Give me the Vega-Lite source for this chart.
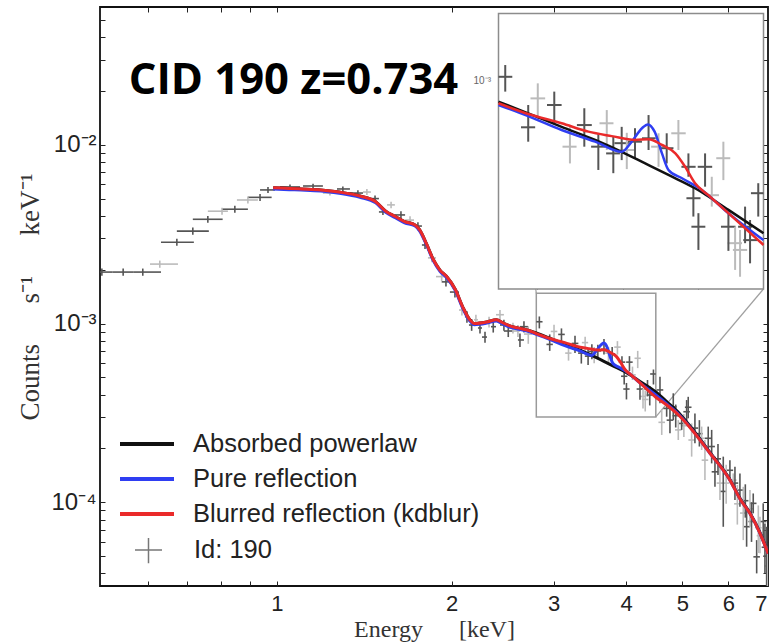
{
  "$schema": "https://vega.github.io/schema/vega-lite/v6.json",
  "width": 668,
  "height": 579,
  "autosize": {"type": "none"},
  "padding": {"left": 100, "top": 7, "right": 3, "bottom": 57},
  "background": "white",
  "config": {
    "view": {"stroke": "#111111", "strokeWidth": 1.8},
    "axis": {"grid": false, "domain": false, "labelFont": "Liberation Sans", "titleFont": "Liberation Serif", "titleFontWeight": "normal", "tickColor": "#222222", "labelFlush": false, "labelOverlap": false, "labelColor": "#222222", "titleColor": "#333333"},
    "legend": {"labelFont": "Liberation Sans", "labelColor": "#222222", "labelFontSize": 25.5, "labelLimit": 400, "padding": 0}
  },
  "datasets": {
    "conn": [
      {"xa": 2.41, "ya": 0.0543, "xb": 2.8, "yb": 0.001475},
      {"xa": 6.9, "ya": 0.00156, "xb": 4.5, "yb": 0.0003}
    ],
    "box": [{"a": 2.8, "b": 4.5, "lo": 0.0003, "hi": 0.001475}],
    "spec": [
      {"E":0.499,"Elo":0.467,"Ehi":0.521,"F":0.00194,"Flo":0.00185,"Fhi":0.00203,"s":"A"},
      {"E":0.543,"Elo":0.521,"Ehi":0.565,"F":0.00194,"Flo":0.00185,"Fhi":0.00203,"s":"A"},
      {"E":0.587,"Elo":0.565,"Ehi":0.631,"F":0.00194,"Flo":0.00185,"Fhi":0.00203,"s":"A"},
      {"E":0.628,"Elo":0.604,"Ehi":0.675,"F":0.00215,"Flo":0.00205,"Fhi":0.00225,"s":"B"},
      {"E":0.672,"Elo":0.631,"Ehi":0.719,"F":0.00285,"Flo":0.00272,"Fhi":0.00298,"s":"A"},
      {"E":0.716,"Elo":0.672,"Ehi":0.763,"F":0.00329,"Flo":0.00314,"Fhi":0.00344,"s":"A"},
      {"E":0.76,"Elo":0.716,"Ehi":0.806,"F":0.00383,"Flo":0.00366,"Fhi":0.004,"s":"A"},
      {"E":0.804,"Elo":0.76,"Ehi":0.823,"F":0.00425,"Flo":0.00406,"Fhi":0.00444,"s":"B"},
      {"E":0.846,"Elo":0.804,"Ehi":0.891,"F":0.00436,"Flo":0.00416,"Fhi":0.00456,"s":"A"},
      {"E":0.891,"Elo":0.853,"Ehi":0.927,"F":0.00491,"Flo":0.00469,"Fhi":0.00513,"s":"B"},
      {"E":0.935,"Elo":0.891,"Ehi":0.979,"F":0.00508,"Flo":0.00485,"Fhi":0.00531,"s":"A"},
      {"E":0.965,"Elo":0.935,"Ehi":0.992,"F":0.00559,"Flo":0.00537,"Fhi":0.00581,"s":"A"},
      {"E":1.053,"Elo":1.012,"Ehi":1.096,"F":0.00581,"Flo":0.00562,"Fhi":0.006,"s":"A"},
      {"E":1.154,"Elo":1.109,"Ehi":1.2,"F":0.00588,"Flo":0.0057,"Fhi":0.00606,"s":"A"},
      {"E":1.234,"Elo":1.2,"Ehi":1.269,"F":0.00537,"Flo":0.0052,"Fhi":0.00555,"s":"B"},
      {"E":1.299,"Elo":1.269,"Ehi":1.336,"F":0.00566,"Flo":0.00548,"Fhi":0.00585,"s":"A"},
      {"E":1.379,"Elo":1.336,"Ehi":1.407,"F":0.00537,"Flo":0.00518,"Fhi":0.00556,"s":"A"},
      {"E":1.429,"Elo":1.407,"Ehi":1.452,"F":0.00544,"Flo":0.00524,"Fhi":0.00565,"s":"B"},
      {"E":1.476,"Elo":1.452,"Ehi":1.499,"F":0.005,"Flo":0.0048,"Fhi":0.0052,"s":"A"},
      {"E":1.523,"Elo":1.499,"Ehi":1.548,"F":0.00421,"Flo":0.00405,"Fhi":0.00438,"s":"A"},
      {"E":1.573,"Elo":1.548,"Ehi":1.597,"F":0.00461,"Flo":0.00442,"Fhi":0.0048,"s":"B"},
      {"E":1.636,"Elo":1.597,"Ehi":1.663,"F":0.00405,"Flo":0.00385,"Fhi":0.00425,"s":"A"},
      {"E":1.696,"Elo":1.663,"Ehi":1.723,"F":0.00379,"Flo":0.0036,"Fhi":0.00398,"s":"B"},
      {"E":1.75,"Elo":1.723,"Ehi":1.778,"F":0.00351,"Flo":0.00333,"Fhi":0.00369,"s":"A"},
      {"E":1.8,"Elo":1.778,"Ehi":1.821,"F":0.00275,"Flo":0.00261,"Fhi":0.0029,"s":"A"},
      {"E":1.85,"Elo":1.821,"Ehi":1.88,"F":0.00233,"Flo":0.0022,"Fhi":0.00246,"s":"B"},
      {"E":1.923,"Elo":1.88,"Ehi":1.956,"F":0.00183,"Flo":0.00173,"Fhi":0.00194,"s":"B"},
      {"E":1.956,"Elo":1.923,"Ehi":1.987,"F":0.00171,"Flo":0.00161,"Fhi":0.00181,"s":"A"},
      {"E":2.027,"Elo":1.987,"Ehi":2.06,"F":0.0015,"Flo":0.0014,"Fhi":0.0016,"s":"A"},
      {"E":2.084,"Elo":2.06,"Ehi":2.109,"F":0.00119,"Flo":0.00111,"Fhi":0.00127,"s":"B"},
      {"E":2.126,"Elo":2.109,"Ehi":2.143,"F":0.00109,"Flo":0.00101,"Fhi":0.00117,"s":"A"},
      {"E":2.166,"Elo":2.143,"Ehi":2.186,"F":0.000981,"Flo":0.00091,"Fhi":0.00106,"s":"A"},
      {"E":2.203,"Elo":2.186,"Ehi":2.221,"F":0.00105,"Flo":0.00097,"Fhi":0.00112,"s":"B"},
      {"E":2.239,"Elo":2.221,"Ehi":2.257,"F":0.000944,"Flo":0.00088,"Fhi":0.00101,"s":"A"},
      {"E":2.284,"Elo":2.257,"Ehi":2.302,"F":0.00084,"Flo":0.00078,"Fhi":0.0009,"s":"A"},
      {"E":2.321,"Elo":2.302,"Ehi":2.339,"F":0.00102,"Flo":0.00095,"Fhi":0.00109,"s":"B"},
      {"E":2.36,"Elo":2.339,"Ehi":2.386,"F":0.00096,"Flo":0.00089,"Fhi":0.00103,"s":"A"},
      {"E":2.424,"Elo":2.386,"Ehi":2.462,"F":0.00112,"Flo":0.00105,"Fhi":0.00119,"s":"B"},
      {"E":2.462,"Elo":2.424,"Ehi":2.505,"F":0.000981,"Flo":0.00091,"Fhi":0.00105,"s":"A"},
      {"E":2.505,"Elo":2.462,"Ehi":2.552,"F":0.000908,"Flo":0.00084,"Fhi":0.00098,"s":"A"},
      {"E":2.552,"Elo":2.505,"Ehi":2.603,"F":0.000944,"Flo":0.00088,"Fhi":0.00101,"s":"B"},
      {"E":2.603,"Elo":2.552,"Ehi":2.624,"F":0.000908,"Flo":0.00084,"Fhi":0.00098,"s":"B"},
      {"E":2.624,"Elo":2.603,"Ehi":2.666,"F":0.000809,"Flo":0.00074,"Fhi":0.00088,"s":"A"},
      {"E":2.666,"Elo":2.624,"Ehi":2.712,"F":0.00096,"Flo":0.00089,"Fhi":0.00103,"s":"A"},
      {"E":2.712,"Elo":2.666,"Ehi":2.753,"F":0.000873,"Flo":0.00077,"Fhi":0.00096,"s":"B"},
      {"E":2.834,"Elo":2.8,"Ehi":2.87,"F":0.001023,"Flo":0.000939,"Fhi":0.001095,"s":"A"},
      {"E":2.953,"Elo":2.915,"Ehi":2.99,"F":0.000764,"Flo":0.000703,"Fhi":0.000869,"s":"A"},
      {"E":3.004,"Elo":2.965,"Ehi":3.044,"F":0.000903,"Flo":0.000797,"Fhi":0.000985,"s":"B"},
      {"E":3.094,"Elo":3.054,"Ehi":3.135,"F":0.000869,"Flo":0.000782,"Fhi":0.000939,"s":"A"},
      {"E":3.182,"Elo":3.14,"Ehi":3.22,"F":0.000683,"Flo":0.00062,"Fhi":0.000766,"s":"B"},
      {"E":3.265,"Elo":3.222,"Ehi":3.309,"F":0.000774,"Flo":0.000683,"Fhi":0.000853,"s":"A"},
      {"E":3.348,"Elo":3.305,"Ehi":3.39,"F":0.000683,"Flo":0.000597,"Fhi":0.000738,"s":"A"},
      {"E":3.399,"Elo":3.355,"Ehi":3.44,"F":0.000782,"Flo":0.00067,"Fhi":0.000844,"s":"B"},
      {"E":3.439,"Elo":3.395,"Ehi":3.48,"F":0.000657,"Flo":0.000586,"Fhi":0.000724,"s":"A"},
      {"E":3.491,"Elo":3.446,"Ehi":3.535,"F":0.000697,"Flo":0.000632,"Fhi":0.000766,"s":"A"},
      {"E":3.523,"Elo":3.48,"Ehi":3.57,"F":0.00067,"Flo":0.0006,"Fhi":0.00074,"s":"B"},
      {"E":3.575,"Elo":3.53,"Ehi":3.62,"F":0.000703,"Flo":0.000639,"Fhi":0.00076,"s":"A"},
      {"E":3.663,"Elo":3.62,"Ehi":3.71,"F":0.000717,"Flo":0.00067,"Fhi":0.00082,"s":"A"},
      {"E":3.729,"Elo":3.68,"Ehi":3.775,"F":0.000683,"Flo":0.000608,"Fhi":0.000738,"s":"B"},
      {"E":3.784,"Elo":3.735,"Ehi":3.83,"F":0.000677,"Flo":0.00062,"Fhi":0.000738,"s":"A"},
      {"E":3.864,"Elo":3.815,"Ehi":3.915,"F":0.000738,"Flo":0.00067,"Fhi":0.000797,"s":"B"},
      {"E":3.934,"Elo":3.885,"Ehi":3.985,"F":0.000608,"Flo":0.000574,"Fhi":0.000657,"s":"A"},
      {"E":3.969,"Elo":3.92,"Ehi":4.02,"F":0.000507,"Flo":0.000456,"Fhi":0.000542,"s":"A"},
      {"E":4.005,"Elo":3.955,"Ehi":4.055,"F":0.00043,"Flo":0.000376,"Fhi":0.000465,"s":"A"},
      {"E":4.053,"Elo":4.0,"Ehi":4.105,"F":0.000608,"Flo":0.000542,"Fhi":0.000657,"s":"A"},
      {"E":4.102,"Elo":4.05,"Ehi":4.155,"F":0.000516,"Flo":0.000483,"Fhi":0.000574,"s":"B"},
      {"E":4.188,"Elo":4.135,"Ehi":4.24,"F":0.000639,"Flo":0.000563,"Fhi":0.000703,"s":"B"},
      {"E":4.226,"Elo":4.17,"Ehi":4.28,"F":0.00043,"Flo":0.000374,"Fhi":0.000474,"s":"A"},
      {"E":4.277,"Elo":4.22,"Ehi":4.33,"F":0.000391,"Flo":0.000335,"Fhi":0.00043,"s":"B"},
      {"E":4.315,"Elo":4.26,"Ehi":4.37,"F":0.000376,"Flo":0.000322,"Fhi":0.000422,"s":"B"},
      {"E":4.354,"Elo":4.3,"Ehi":4.41,"F":0.00043,"Flo":0.000391,"Fhi":0.000483,"s":"A"},
      {"E":4.393,"Elo":4.34,"Ehi":4.45,"F":0.000398,"Flo":0.000348,"Fhi":0.000447,"s":"A"},
      {"E":4.458,"Elo":4.4,"Ehi":4.5,"F":0.000522,"Flo":0.000456,"Fhi":0.000553,"s":"A"},
      {"E":4.575,"Elo":4.515,"Ehi":4.635,"F":0.000425,"Flo":0.000358,"Fhi":0.000504,"s":"A"},
      {"E":4.607,"Elo":4.547,"Ehi":4.667,"F":0.00028,"Flo":0.000238,"Fhi":0.000328,"s":"B"},
      {"E":4.698,"Elo":4.637,"Ehi":4.759,"F":0.000335,"Flo":0.000301,"Fhi":0.000373,"s":"A"},
      {"E":4.76,"Elo":4.698,"Ehi":4.822,"F":0.000288,"Flo":0.000243,"Fhi":0.000342,"s":"A"},
      {"E":4.823,"Elo":4.76,"Ehi":4.886,"F":0.000342,"Flo":0.000288,"Fhi":0.000407,"s":"A"},
      {"E":4.87,"Elo":4.81,"Ehi":4.93,"F":0.000305,"Flo":0.000262,"Fhi":0.000352,"s":"A"},
      {"E":4.92,"Elo":4.856,"Ehi":4.984,"F":0.000254,"Flo":0.000223,"Fhi":0.000288,"s":"B"},
      {"E":4.986,"Elo":4.921,"Ehi":5.051,"F":0.000276,"Flo":0.000254,"Fhi":0.000301,"s":"A"},
      {"E":5.03,"Elo":4.97,"Ehi":5.09,"F":0.000268,"Flo":0.000232,"Fhi":0.000312,"s":"B"},
      {"E":5.086,"Elo":5.02,"Ehi":5.152,"F":0.000321,"Flo":0.000282,"Fhi":0.000373,"s":"A"},
      {"E":5.118,"Elo":5.051,"Ehi":5.185,"F":0.00034,"Flo":0.000295,"Fhi":0.000389,"s":"A"},
      {"E":5.188,"Elo":5.121,"Ehi":5.255,"F":0.000223,"Flo":0.00018,"Fhi":0.000276,"s":"B"},
      {"E":5.256,"Elo":5.188,"Ehi":5.324,"F":0.00026,"Flo":0.000214,"Fhi":0.000314,"s":"A"},
      {"E":5.35,"Elo":5.28,"Ehi":5.42,"F":0.000242,"Flo":0.000205,"Fhi":0.000288,"s":"A"},
      {"E":5.398,"Elo":5.328,"Ehi":5.468,"F":0.000228,"Flo":0.000196,"Fhi":0.000265,"s":"B"},
      {"E":5.469,"Elo":5.398,"Ehi":5.54,"F":0.000172,"Flo":0.000133,"Fhi":0.000223,"s":"B"},
      {"E":5.541,"Elo":5.469,"Ehi":5.613,"F":0.000228,"Flo":0.000196,"Fhi":0.000265,"s":"A"},
      {"E":5.617,"Elo":5.544,"Ehi":5.69,"F":0.000205,"Flo":0.000165,"Fhi":0.000254,"s":"A"},
      {"E":5.691,"Elo":5.617,"Ehi":5.765,"F":0.000148,"Flo":0.000122,"Fhi":0.00018,"s":"A"},
      {"E":5.76,"Elo":5.69,"Ehi":5.83,"F":0.000175,"Flo":0.000142,"Fhi":0.000212,"s":"A"},
      {"E":5.805,"Elo":5.73,"Ehi":5.88,"F":0.000128,"Flo":0.000103,"Fhi":0.000158,"s":"B"},
      {"E":5.882,"Elo":5.806,"Ehi":5.958,"F":0.000115,"Flo":0.0000729,"Fhi":0.00018,"s":"A"},
      {"E":5.95,"Elo":5.87,"Ehi":6.03,"F":0.000128,"Flo":0.000098,"Fhi":0.000162,"s":"B"},
      {"E":6.039,"Elo":5.961,"Ehi":6.117,"F":0.000151,"Flo":0.000133,"Fhi":0.000172,"s":"A"},
      {"E":6.119,"Elo":6.039,"Ehi":6.199,"F":0.000133,"Flo":0.000122,"Fhi":0.000145,"s":"B"},
      {"E":6.161,"Elo":6.081,"Ehi":6.241,"F":0.000128,"Flo":0.000103,"Fhi":0.000158,"s":"A"},
      {"E":6.22,"Elo":6.14,"Ehi":6.3,"F":0.000098,"Flo":0.000075,"Fhi":0.000125,"s":"B"},
      {"E":6.284,"Elo":6.202,"Ehi":6.366,"F":0.000117,"Flo":0.0000944,"Fhi":0.000145,"s":"A"},
      {"E":6.368,"Elo":6.285,"Ehi":6.451,"F":0.000087,"Flo":0.0000614,"Fhi":0.000122,"s":"B"},
      {"E":6.42,"Elo":6.34,"Ehi":6.5,"F":0.000102,"Flo":0.000082,"Fhi":0.000126,"s":"A"},
      {"E":6.453,"Elo":6.369,"Ehi":6.537,"F":0.000073,"Flo":0.0000564,"Fhi":0.0000944,"s":"A"},
      {"E":6.539,"Elo":6.454,"Ehi":6.624,"F":0.000092,"Flo":0.0000729,"Fhi":0.000117,"s":"B"},
      {"E":6.58,"Elo":6.5,"Ehi":6.66,"F":0.000078,"Flo":0.00006,"Fhi":0.0001,"s":"A"},
      {"E":6.625,"Elo":6.539,"Ehi":6.711,"F":0.0000986,"Flo":0.0000867,"Fhi":0.000112,"s":"A"},
      {"E":6.716,"Elo":6.629,"Ehi":6.803,"F":0.0000495,"Flo":0.00004,"Fhi":0.0000614,"s":"A"},
      {"E":6.76,"Elo":6.67,"Ehi":6.85,"F":0.000072,"Flo":0.000052,"Fhi":0.000096,"s":"B"},
      {"E":6.804,"Elo":6.716,"Ehi":6.892,"F":0.000065,"Flo":0.0000518,"Fhi":0.000083,"s":"B"},
      {"E":6.893,"Elo":6.803,"Ehi":6.983,"F":0.000078,"Flo":0.0000614,"Fhi":0.0000986,"s":"A"},
      {"E":6.94,"Elo":6.85,"Ehi":7.03,"F":0.000056,"Flo":0.00004,"Fhi":0.000076,"s":"A"},
      {"E":6.987,"Elo":6.896,"Ehi":7.078,"F":0.00005,"Flo":0.000034,"Fhi":0.0000729,"s":"A"},
      {"E":7.02,"Elo":6.93,"Ehi":7.11,"F":0.000044,"Flo":0.000034,"Fhi":0.0000564,"s":"B"}
    ],
    "model": [
      {"model":"Absorbed powerlaw","E":0.985,"F":0.00575},
      {"model":"Absorbed powerlaw","E":1.05,"F":0.0057},
      {"model":"Absorbed powerlaw","E":1.1,"F":0.00566},
      {"model":"Absorbed powerlaw","E":1.19,"F":0.00559},
      {"model":"Absorbed powerlaw","E":1.28,"F":0.00544},
      {"model":"Absorbed powerlaw","E":1.39,"F":0.00517},
      {"model":"Absorbed powerlaw","E":1.48,"F":0.0048},
      {"model":"Absorbed powerlaw","E":1.54,"F":0.00425},
      {"model":"Absorbed powerlaw","E":1.6,"F":0.00397},
      {"model":"Absorbed powerlaw","E":1.66,"F":0.00372},
      {"model":"Absorbed powerlaw","E":1.73,"F":0.00356},
      {"model":"Absorbed powerlaw","E":1.76,"F":0.00336},
      {"model":"Absorbed powerlaw","E":1.81,"F":0.0028},
      {"model":"Absorbed powerlaw","E":1.86,"F":0.00228},
      {"model":"Absorbed powerlaw","E":1.91,"F":0.00199},
      {"model":"Absorbed powerlaw","E":1.96,"F":0.00184},
      {"model":"Absorbed powerlaw","E":2.03,"F":0.00155},
      {"model":"Absorbed powerlaw","E":2.09,"F":0.00124},
      {"model":"Absorbed powerlaw","E":2.15,"F":0.00105},
      {"model":"Absorbed powerlaw","E":2.19,"F":0.001},
      {"model":"Absorbed powerlaw","E":2.3,"F":0.00102},
      {"model":"Absorbed powerlaw","E":2.39,"F":0.00105},
      {"model":"Absorbed powerlaw","E":2.45,"F":0.00101},
      {"model":"Absorbed powerlaw","E":2.52,"F":0.00097},
      {"model":"Absorbed powerlaw","E":2.6,"F":0.000945},
      {"model":"Absorbed powerlaw","E":2.7,"F":0.00092},
      {"model":"Absorbed powerlaw","E":2.8,"F":0.000886},
      {"model":"Absorbed powerlaw","E":2.953,"F":0.000828},
      {"model":"Absorbed powerlaw","E":3.135,"F":0.000766},
      {"model":"Absorbed powerlaw","E":3.329,"F":0.00071},
      {"model":"Absorbed powerlaw","E":3.491,"F":0.000663},
      {"model":"Absorbed powerlaw","E":3.641,"F":0.00062},
      {"model":"Absorbed powerlaw","E":3.796,"F":0.00058},
      {"model":"Absorbed powerlaw","E":3.981,"F":0.000537},
      {"model":"Absorbed powerlaw","E":4.226,"F":0.000474},
      {"model":"Absorbed powerlaw","E":4.5,"F":0.000414},
      {"model":"Absorbed powerlaw","E":4.7,"F":0.000365},
      {"model":"Absorbed powerlaw","E":4.95,"F":0.000312},
      {"model":"Absorbed powerlaw","E":5.15,"F":0.000268},
      {"model":"Absorbed powerlaw","E":5.58,"F":0.00019},
      {"model":"Absorbed powerlaw","E":6.04,"F":0.000134},
      {"model":"Absorbed powerlaw","E":6.29,"F":0.000105},
      {"model":"Absorbed powerlaw","E":6.54,"F":0.000087},
      {"model":"Absorbed powerlaw","E":6.8,"F":0.000068},
      {"model":"Absorbed powerlaw","E":7.03,"F":0.0000519},
      {"model":"Pure reflection","E":0.985,"F":0.00566},
      {"model":"Pure reflection","E":1.05,"F":0.00561},
      {"model":"Pure reflection","E":1.1,"F":0.00558},
      {"model":"Pure reflection","E":1.19,"F":0.00551},
      {"model":"Pure reflection","E":1.28,"F":0.00536},
      {"model":"Pure reflection","E":1.39,"F":0.00509},
      {"model":"Pure reflection","E":1.48,"F":0.00473},
      {"model":"Pure reflection","E":1.54,"F":0.00419},
      {"model":"Pure reflection","E":1.6,"F":0.00391},
      {"model":"Pure reflection","E":1.66,"F":0.00366},
      {"model":"Pure reflection","E":1.73,"F":0.00351},
      {"model":"Pure reflection","E":1.76,"F":0.00331},
      {"model":"Pure reflection","E":1.81,"F":0.00276},
      {"model":"Pure reflection","E":1.86,"F":0.00225},
      {"model":"Pure reflection","E":1.91,"F":0.00196},
      {"model":"Pure reflection","E":1.96,"F":0.00181},
      {"model":"Pure reflection","E":2.03,"F":0.00153},
      {"model":"Pure reflection","E":2.09,"F":0.00122},
      {"model":"Pure reflection","E":2.15,"F":0.001034},
      {"model":"Pure reflection","E":2.19,"F":0.000985},
      {"model":"Pure reflection","E":2.3,"F":0.001005},
      {"model":"Pure reflection","E":2.39,"F":0.001034},
      {"model":"Pure reflection","E":2.45,"F":0.000995},
      {"model":"Pure reflection","E":2.52,"F":0.000955},
      {"model":"Pure reflection","E":2.6,"F":0.000931},
      {"model":"Pure reflection","E":2.7,"F":0.000906},
      {"model":"Pure reflection","E":2.8,"F":0.000869},
      {"model":"Pure reflection","E":2.953,"F":0.000815},
      {"model":"Pure reflection","E":3.135,"F":0.000752},
      {"model":"Pure reflection","E":3.329,"F":0.000703},
      {"model":"Pure reflection","E":3.491,"F":0.000663},
      {"model":"Pure reflection","E":3.554,"F":0.000703},
      {"model":"Pure reflection","E":3.62,"F":0.00076},
      {"model":"Pure reflection","E":3.659,"F":0.000777},
      {"model":"Pure reflection","E":3.703,"F":0.000745},
      {"model":"Pure reflection","E":3.752,"F":0.000657},
      {"model":"Pure reflection","E":3.796,"F":0.000597},
      {"model":"Pure reflection","E":3.889,"F":0.000569},
      {"model":"Pure reflection","E":4.029,"F":0.000532},
      {"model":"Pure reflection","E":4.226,"F":0.000465},
      {"model":"Pure reflection","E":4.5,"F":0.000398},
      {"model":"Pure reflection","E":4.7,"F":0.000355},
      {"model":"Pure reflection","E":4.95,"F":0.000306},
      {"model":"Pure reflection","E":5.15,"F":0.000264},
      {"model":"Pure reflection","E":5.58,"F":0.000188},
      {"model":"Pure reflection","E":6.04,"F":0.000133},
      {"model":"Pure reflection","E":6.29,"F":0.000104},
      {"model":"Pure reflection","E":6.54,"F":0.0000865},
      {"model":"Pure reflection","E":6.8,"F":0.0000675},
      {"model":"Pure reflection","E":7.03,"F":0.0000515},
      {"model":"Blurred reflection (kdblur)","E":0.985,"F":0.00575},
      {"model":"Blurred reflection (kdblur)","E":1.05,"F":0.0057},
      {"model":"Blurred reflection (kdblur)","E":1.1,"F":0.00566},
      {"model":"Blurred reflection (kdblur)","E":1.19,"F":0.00559},
      {"model":"Blurred reflection (kdblur)","E":1.28,"F":0.00544},
      {"model":"Blurred reflection (kdblur)","E":1.39,"F":0.00517},
      {"model":"Blurred reflection (kdblur)","E":1.48,"F":0.0048},
      {"model":"Blurred reflection (kdblur)","E":1.54,"F":0.00425},
      {"model":"Blurred reflection (kdblur)","E":1.6,"F":0.00397},
      {"model":"Blurred reflection (kdblur)","E":1.66,"F":0.00372},
      {"model":"Blurred reflection (kdblur)","E":1.73,"F":0.00356},
      {"model":"Blurred reflection (kdblur)","E":1.76,"F":0.00336},
      {"model":"Blurred reflection (kdblur)","E":1.81,"F":0.0028},
      {"model":"Blurred reflection (kdblur)","E":1.86,"F":0.00228},
      {"model":"Blurred reflection (kdblur)","E":1.91,"F":0.00199},
      {"model":"Blurred reflection (kdblur)","E":1.96,"F":0.00184},
      {"model":"Blurred reflection (kdblur)","E":2.03,"F":0.00155},
      {"model":"Blurred reflection (kdblur)","E":2.09,"F":0.00124},
      {"model":"Blurred reflection (kdblur)","E":2.15,"F":0.00105},
      {"model":"Blurred reflection (kdblur)","E":2.19,"F":0.001},
      {"model":"Blurred reflection (kdblur)","E":2.3,"F":0.00102},
      {"model":"Blurred reflection (kdblur)","E":2.39,"F":0.00105},
      {"model":"Blurred reflection (kdblur)","E":2.45,"F":0.00101},
      {"model":"Blurred reflection (kdblur)","E":2.52,"F":0.00097},
      {"model":"Blurred reflection (kdblur)","E":2.6,"F":0.000945},
      {"model":"Blurred reflection (kdblur)","E":2.7,"F":0.00092},
      {"model":"Blurred reflection (kdblur)","E":2.8,"F":0.000878},
      {"model":"Blurred reflection (kdblur)","E":2.953,"F":0.000825},
      {"model":"Blurred reflection (kdblur)","E":3.135,"F":0.000782},
      {"model":"Blurred reflection (kdblur)","E":3.289,"F":0.000745},
      {"model":"Blurred reflection (kdblur)","E":3.429,"F":0.000726},
      {"model":"Blurred reflection (kdblur)","E":3.575,"F":0.00071},
      {"model":"Blurred reflection (kdblur)","E":3.663,"F":0.000713},
      {"model":"Blurred reflection (kdblur)","E":3.752,"F":0.00069},
      {"model":"Blurred reflection (kdblur)","E":3.843,"F":0.000657},
      {"model":"Blurred reflection (kdblur)","E":3.911,"F":0.000608},
      {"model":"Blurred reflection (kdblur)","E":3.981,"F":0.000553},
      {"model":"Blurred reflection (kdblur)","E":4.077,"F":0.000516},
      {"model":"Blurred reflection (kdblur)","E":4.226,"F":0.000465},
      {"model":"Blurred reflection (kdblur)","E":4.5,"F":0.000387},
      {"model":"Blurred reflection (kdblur)","E":4.7,"F":0.00035},
      {"model":"Blurred reflection (kdblur)","E":4.95,"F":0.000303},
      {"model":"Blurred reflection (kdblur)","E":5.15,"F":0.000263},
      {"model":"Blurred reflection (kdblur)","E":5.58,"F":0.000188},
      {"model":"Blurred reflection (kdblur)","E":6.04,"F":0.000133},
      {"model":"Blurred reflection (kdblur)","E":6.29,"F":0.000104},
      {"model":"Blurred reflection (kdblur)","E":6.54,"F":0.0000865},
      {"model":"Blurred reflection (kdblur)","E":6.8,"F":0.0000675},
      {"model":"Blurred reflection (kdblur)","E":7.03,"F":0.0000515}
    ]
  },
  "resolve": {
    "scale": {"x": "independent", "y": "independent", "color": "independent", "shape": "independent"},
    "axis": {"x": "independent", "y": "independent"}
  },
  "layer": [
    {
      "resolve": {"axis": {"x": "independent", "y": "independent"}},
      "layer": [
        {
          "data": {"name": "conn"},
          "mark": {"type": "rule", "color": "#a0a0a0", "strokeWidth": 1.2, "clip": true},
          "encoding": {
            "x": {"field": "xa", "type": "quantitative", "scale": {"type": "log", "domain": [0.4953, 7.025]}, "axis": null},
            "x2": {"field": "xb"},
            "y": {"field": "ya", "type": "quantitative", "scale": {"type": "log", "domain": [0.000034, 0.059]}, "axis": null},
            "y2": {"field": "yb"}
          }
        },
        {
          "data": {"name": "box"},
          "mark": {"type": "rect", "fill": "transparent", "stroke": "#9a9a9a", "strokeWidth": 1.5},
          "encoding": {
            "x": {"field": "a", "type": "quantitative", "scale": {"type": "log", "domain": [0.4953, 7.025]},
              "axis": {"orient": "top", "values": [0.6, 0.7, 0.8, 0.9, 1, 2, 3, 4, 5, 6, 7], "labels": false, "tickSize": -5, "title": null}},
            "x2": {"field": "b"},
            "y": {"field": "lo", "type": "quantitative", "scale": {"type": "log", "domain": [0.000034, 0.059]},
              "axis": {"orient": "right", "values": [0.00004, 0.00005, 0.00006, 0.00007, 0.00008, 0.00009, 0.0001, 0.0002, 0.0003, 0.0004, 0.0005, 0.0006, 0.0007, 0.0008, 0.0009, 0.001, 0.002, 0.003, 0.004, 0.005, 0.006, 0.007, 0.008, 0.009, 0.01, 0.02, 0.03, 0.04, 0.05], "labels": false, "tickSize": -5, "title": null}},
            "y2": {"field": "hi"}
          }
        },
        {
          "data": {"name": "spec"},
          "mark": {"type": "rule", "strokeWidth": 1.6, "clip": true},
          "encoding": {
            "x": {"field": "Elo", "type": "quantitative", "scale": {"type": "log", "domain": [0.4953, 7.025]},
              "axis": {"orient": "bottom", "values": [0.6, 0.7, 0.8, 0.9, 1, 2, 3, 4, 5, 6, 7], "labelExpr": "datum.value >= 1 ? format(datum.value, 'd') : ''", "labelFlush": 2, "tickSize": -5, "labelPadding": 12, "labelFontSize": 22, "title": "Energy\u2003\u2002[keV]", "titleFontSize": 24, "titlePadding": 3}},
            "x2": {"field": "Ehi"},
            "y": {"field": "F", "type": "quantitative", "scale": {"type": "log", "domain": [0.000034, 0.059]},
              "axis": {"orient": "left", "values": [0.00004, 0.00005, 0.00006, 0.00007, 0.00008, 0.00009, 0.0001, 0.0002, 0.0003, 0.0004, 0.0005, 0.0006, 0.0007, 0.0008, 0.0009, 0.001, 0.002, 0.003, 0.004, 0.005, 0.006, 0.007, 0.008, 0.009, 0.01, 0.02, 0.03, 0.04, 0.05], "labelExpr": "datum.value == 0.0001 ? '10\u207b\u2074' : datum.value == 0.001 ? '10\u207b\u00b3' : datum.value == 0.01 ? '10\u207b\u00b2' : ''", "tickSize": -5, "labelPadding": 9, "labelFontSize": 24, "title": "Counts\u2003\u2002s\u207b\u00b9\u2003\u2002keV\u207b\u00b9", "titleFontSize": 27, "titlePadding": 6}},
            "color": {"condition": {"test": "datum.s === 'B'", "value": "#bbbbbb"}, "value": "#555555"}
          }
        },
        {
          "data": {"name": "spec"},
          "mark": {"type": "rule", "strokeWidth": 1.6, "clip": true},
          "encoding": {
            "x": {"field": "E", "type": "quantitative", "scale": {"type": "log", "domain": [0.4953, 7.025]}, "axis": null},
            "y": {"field": "Flo", "type": "quantitative", "scale": {"type": "log", "domain": [0.000034, 0.059]}, "axis": null},
            "y2": {"field": "Fhi"},
            "color": {"condition": {"test": "datum.s === 'B'", "value": "#bbbbbb"}, "value": "#555555"}
          }
        },
        {
          "data": {"name": "model"},
          "mark": {"type": "line", "strokeWidth": 3, "clip": true, "interpolate": "monotone"},
          "encoding": {
            "x": {"field": "E", "type": "quantitative", "scale": {"type": "log", "domain": [0.4953, 7.025]}, "axis": null},
            "y": {"field": "F", "type": "quantitative", "scale": {"type": "log", "domain": [0.000034, 0.059]}, "axis": null},
            "color": {"field": "model", "type": "nominal",
              "scale": {"domain": ["Absorbed powerlaw", "Pure reflection", "Blurred reflection (kdblur)"], "range": ["#111111", "#2f3ef2", "#ea2a2a"]},
              "legend": {"orient": "none", "legendX": 18, "legendY": 425, "title": null, "symbolType": "stroke", "symbolSize": 2916, "symbolStrokeWidth": 4, "labelOffset": 17, "clipHeight": 24, "rowPadding": 9}}
          }
        },
        {
          "data": {"name": "box"},
          "mark": {"type": "point", "opacity": 0, "color": "#777777", "strokeWidth": 1.5, "filled": false},
          "encoding": {
            "x": {"field": "a", "type": "quantitative", "scale": {"type": "log", "domain": [0.4953, 7.025]}, "axis": null},
            "y": {"field": "lo", "type": "quantitative", "scale": {"type": "log", "domain": [0.000034, 0.059]}, "axis": null},
            "shape": {"datum": "Id: 190", "scale": {"range": ["M-1,0H1M0,-1V1"]},
              "legend": {"orient": "none", "legendX": 34, "legendY": 531, "title": null, "symbolSize": 729, "symbolStrokeWidth": 1.5, "symbolStrokeColor": "#777777", "symbolFillColor": "transparent", "symbolOpacity": 1, "labelOffset": 31, "clipHeight": 24}}
          }
        },
        {
          "data": {"values": [{}]},
          "mark": {"type": "text", "text": "CID 190 z=0.734", "font": "Open Sans", "fontWeight": "bold", "fontSize": 43.5, "align": "left", "baseline": "middle", "color": "#000000"},
          "encoding": {
            "x": {"datum": 0.555, "type": "quantitative", "scale": {"type": "log", "domain": [0.4953, 7.025]}, "axis": null},
            "y": {"datum": 0.0228, "type": "quantitative", "scale": {"type": "log", "domain": [0.000034, 0.059]}, "axis": null}
          }
        }
      ]
    },
    {
      "resolve": {"axis": {"x": "independent", "y": "independent"}},
      "layer": [
        {
          "data": {"name": "box"},
          "mark": {"type": "rect", "fill": "white", "stroke": "#8c8c8c", "strokeWidth": 1.5},
          "encoding": {
            "x": {"field": "a", "type": "quantitative", "scale": {"type": "log", "domain": [2.8, 4.5], "range": [398.5, 663.5], "clamp": true},
              "axis": {"orient": "top", "offset": -6.5, "values": [3, 3.5, 4], "labels": false, "tickSize": -4, "title": null}},
            "x2": {"field": "b"},
            "y": {"field": "lo", "type": "quantitative", "scale": {"type": "log", "domain": [0.0003, 0.001475], "range": [282, 6.5], "clamp": true},
              "axis": {"orient": "left", "offset": -398.5, "values": [0.0004, 0.0005, 0.0006, 0.0007, 0.0008, 0.0009, 0.001], "labelExpr": "datum.value == 0.001 ? '10\u207b\u00b3' : ''", "labelFontSize": 10, "labelColor": "#666666", "tickSize": -4, "labelPadding": 12, "title": null}},
            "y2": {"field": "hi"}
          }
        },
        {
          "data": {"name": "spec"},
          "transform": [{"filter": "datum.E >= 2.8 && datum.E <= 4.5"}],
          "mark": {"type": "rule", "strokeWidth": 2},
          "encoding": {
            "x": {"field": "Elo", "type": "quantitative", "scale": {"type": "log", "domain": [2.8, 4.5], "range": [398.5, 663.5], "clamp": true},
              "axis": {"orient": "bottom", "offset": -297, "values": [3, 3.5, 4], "labels": false, "tickSize": -4, "title": null}},
            "x2": {"field": "Ehi"},
            "y": {"field": "F", "type": "quantitative", "scale": {"type": "log", "domain": [0.0003, 0.001475], "range": [282, 6.5], "clamp": true},
              "axis": {"orient": "right", "offset": -4.5, "values": [0.0004, 0.0005, 0.0006, 0.0007, 0.0008, 0.0009, 0.001], "labels": false, "tickSize": -4, "title": null}},
            "color": {"condition": {"test": "datum.s === 'B'", "value": "#bbbbbb"}, "value": "#555555"}
          }
        },
        {
          "data": {"name": "spec"},
          "transform": [{"filter": "datum.E >= 2.8 && datum.E <= 4.5"}],
          "mark": {"type": "rule", "strokeWidth": 2},
          "encoding": {
            "x": {"field": "E", "type": "quantitative", "scale": {"type": "log", "domain": [2.8, 4.5], "range": [398.5, 663.5], "clamp": true}, "axis": null},
            "y": {"field": "Flo", "type": "quantitative", "scale": {"type": "log", "domain": [0.0003, 0.001475], "range": [282, 6.5], "clamp": true}, "axis": null},
            "y2": {"field": "Fhi"},
            "color": {"condition": {"test": "datum.s === 'B'", "value": "#bbbbbb"}, "value": "#555555"}
          }
        },
        {
          "data": {"name": "model"},
          "transform": [{"filter": "datum.E >= 2.8 && datum.E <= 4.5"}],
          "mark": {"type": "line", "strokeWidth": 2.5, "interpolate": "monotone"},
          "encoding": {
            "x": {"field": "E", "type": "quantitative", "scale": {"type": "log", "domain": [2.8, 4.5], "range": [398.5, 663.5], "clamp": true}, "axis": null},
            "y": {"field": "F", "type": "quantitative", "scale": {"type": "log", "domain": [0.0003, 0.001475], "range": [282, 6.5], "clamp": true}, "axis": null},
            "color": {"field": "model", "type": "nominal",
              "scale": {"domain": ["Absorbed powerlaw", "Pure reflection", "Blurred reflection (kdblur)"], "range": ["#111111", "#2f3ef2", "#ea2a2a"]},
              "legend": null}
          }
        }
      ]
    }
  ]
}
